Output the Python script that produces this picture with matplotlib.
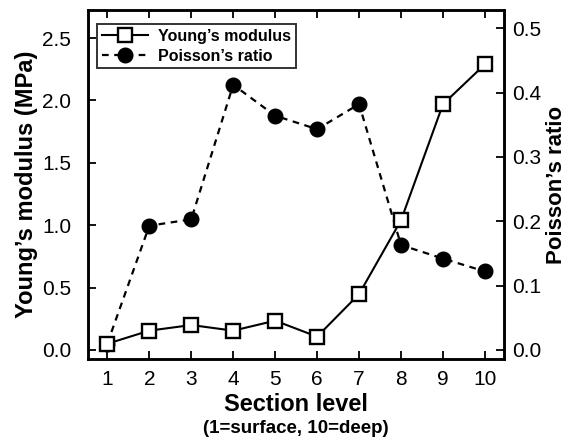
import matplotlib
matplotlib.use('Agg')
import matplotlib.pyplot as plt

plt.rcParams['font.family'] = ['Liberation Sans', 'DejaVu Sans']

section = [1, 2, 3, 4, 5, 6, 7, 8, 9, 10]
youngs = [0.05, 0.155, 0.20, 0.155, 0.235, 0.107, 0.448, 1.04, 1.97, 2.29]
poisson = [0.01, 0.193, 0.203, 0.412, 0.364, 0.343, 0.382, 0.163, 0.142, 0.122]

fig = plt.figure(figsize=(5.68, 4.41), dpi=100)
ax1 = fig.add_axes([0.155, 0.186, 0.732, 0.791])
ax2 = ax1.twinx()

# keep Young's squares on top of the circles
ax1.set_zorder(ax2.get_zorder() + 1)
ax1.patch.set_visible(False)

l1, = ax1.plot(section, youngs, '-s', color='black', lw=1.5, markersize=10,
               markerfacecolor='white', markeredgecolor='black', markeredgewidth=1.7,
               label="Young\u2019s modulus")
l2, = ax2.plot(section, poisson, 'o', linestyle=(0, (3, 2.5)), color='black', lw=1.6,
               markersize=10.5, label="Poisson\u2019s ratio")

ax1.set_xlim(0.54, 10.45)
ax1.set_ylim(-0.072, 2.724)
ax2.set_ylim(-0.014, 0.528)
ax1.set_xticks(section)
ax1.set_yticks([0.0, 0.5, 1.0, 1.5, 2.0, 2.5])
ax2.set_yticks([0.0, 0.1, 0.2, 0.3, 0.4, 0.5])
ax1.yaxis.set_major_formatter(matplotlib.ticker.FormatStrFormatter('%.1f'))
ax2.yaxis.set_major_formatter(matplotlib.ticker.FormatStrFormatter('%.1f'))

ax1.tick_params(axis='x', direction='in', length=6, width=1.3, labelsize=15,
                top=True, pad=8)
ax1.tick_params(axis='y', direction='in', length=6, width=1.3, labelsize=15,
                right=False, pad=12)
ax2.tick_params(axis='y', direction='in', length=6, width=1.3, labelsize=15, pad=6)
for ax in (ax1, ax2):
    for s in ax.spines.values():
        s.set_linewidth(1.8)

ax1.set_ylabel("Young\u2019s modulus (MPa)", fontsize=17, fontweight='bold', labelpad=3)
ax2.set_ylabel("Poisson\u2019s ratio", fontsize=16, fontweight='bold', labelpad=3)
ax1.set_xlabel("Section level", fontsize=17, fontweight='bold', labelpad=3)
ax1.text(0.5, -0.175, "(1=surface, 10=deep)", transform=ax1.transAxes, ha='center',
         va='top', fontsize=13.5, fontweight='bold')

leg = ax1.legend(handles=[l1, l2], loc='upper left', bbox_to_anchor=(0.022, 0.96),
                 prop={'weight': 'bold', 'size': 11.5}, frameon=True, fancybox=False,
                 edgecolor='black', handlelength=2.9, borderpad=0.3, labelspacing=0.3,
                 handletextpad=0.6, borderaxespad=0)
leg.get_frame().set_linewidth(1.4)

fig.savefig('out.png', dpi=100)
